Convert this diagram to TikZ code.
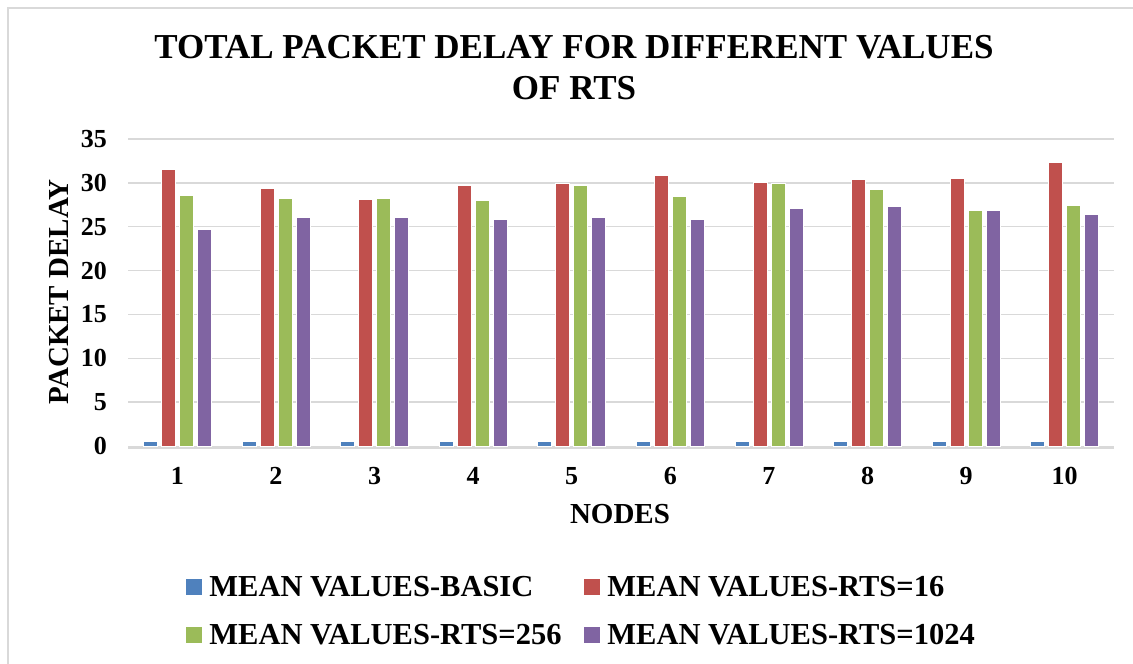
\documentclass[tikz,border=0pt]{standalone}
\usepackage{fontspec}
\setmainfont{Liberation Serif}
\usepackage{xcolor}
\usepackage{tikz}
\usetikzlibrary{positioning}

\definecolor{basicblue}{HTML}{4F81BD}
\definecolor{rtsred}{HTML}{C0504D}
\definecolor{rtsgreen}{HTML}{9BBB59}
\definecolor{rtspurple}{HTML}{8064A2}
\definecolor{gridgrey}{HTML}{D9D9D9}

\begin{document}
\begin{tikzpicture}[x=1pt,y=1pt,
    gridline/.style={gridgrey, line width=1.5pt},
    bar/.style={draw=white, line width=0.6pt},
    ticklabel/.style={font=\fontsize{26}{30}\selectfont\bfseries, inner sep=0pt},
    axistitle/.style={font=\fontsize{29}{34}\selectfont\bfseries, inner sep=0pt},
    keybox/.style={minimum size=16pt, inner sep=0pt},
    keytext/.style={font=\fontsize{30.5}{34}\selectfont\bfseries, inner sep=0pt, anchor=west}]

    \useasboundingbox (0,0) rectangle (1133,664);

    % Chart frame (cut off on the right and at the bottom)
    \draw[gridline] (8,0) -- (8,656) -- (1133,656);

    % Title
    \node[font=\fontsize{35}{41}\selectfont\bfseries, align=center] (title) at (574,596)
        {TOTAL PACKET DELAY FOR DIFFERENT VALUES\\OF RTS};

    % Axis line
    \draw[gridgrey, line width=3pt] (128,216.5) -- (1114,216.5);

    % Grid, y ticks and bars
    \begin{scope}[shift={(0,218)}, y=8.77pt]
        \foreach \v in {5,10,...,35}
            \draw[gridline] (128,\v) -- (1114,\v);
        \foreach \v in {0,5,...,35}
            \node[ticklabel, anchor=east] (ytick\v) at (107,\v) {\v};
        \foreach \i/\vb/\vr/\vg/\vp in {1/0.55/31.55/28.6/24.7, 2/0.55/29.4/28.3/26.1,
                3/0.55/28.1/28.3/26.1, 4/0.55/29.7/28.0/25.8, 5/0.55/29.9/29.7/26.05,
                6/0.55/30.9/28.5/25.8, 7/0.55/30.1/29.9/27.1, 8/0.55/30.4/29.3/27.3,
                9/0.55/30.5/26.9/26.9, 10/0.55/32.3/27.5/26.4}{
            \pgfmathsetmacro{\cx}{128+98.6*(\i-0.5)}
            \fill[basicblue, bar] (\cx-34,0) rectangle (\cx-20,\vb);
            \fill[rtsred, bar] (\cx-16,0) rectangle (\cx-2,\vr);
            \fill[rtsgreen, bar] (\cx+2,0) rectangle (\cx+16,\vg);
            \fill[rtspurple, bar] (\cx+20,0) rectangle (\cx+34,\vp);
        }
    \end{scope}

    % x ticks
    \foreach \i in {1,...,10}
        \node[ticklabel] (xtick\i) at ({128+98.6*(\i-0.5)},188) {\i};

    % Axis titles
    \node[axistitle, rotate=90] (ytitle) at (59,372) {PACKET DELAY};
    \node[axistitle] (xtitle) at (620,150) {NODES};

    % Legend
    \node[keybox, fill=basicblue] (keybasic) at (194,77) {};
    \node[keytext, right=7pt of keybasic] (txtbasic) {MEAN VALUES-BASIC};
    \node[keybox, fill=rtsred] (keysixteen) at (592,77) {};
    \node[keytext, right=7pt of keysixteen] (txtsixteen) {MEAN VALUES-RTS=16};
    \node[keybox, fill=rtsgreen] (keytwofivesix) at (194,29) {};
    \node[keytext, right=7pt of keytwofivesix] (txttwofivesix) {MEAN VALUES-RTS=256};
    \node[keybox, fill=rtspurple] (keyonezerotwofour) at (592,29) {};
    \node[keytext, right=7pt of keyonezerotwofour] (txtonezerotwofour) {MEAN VALUES-RTS=1024};

\end{tikzpicture}
\end{document}
